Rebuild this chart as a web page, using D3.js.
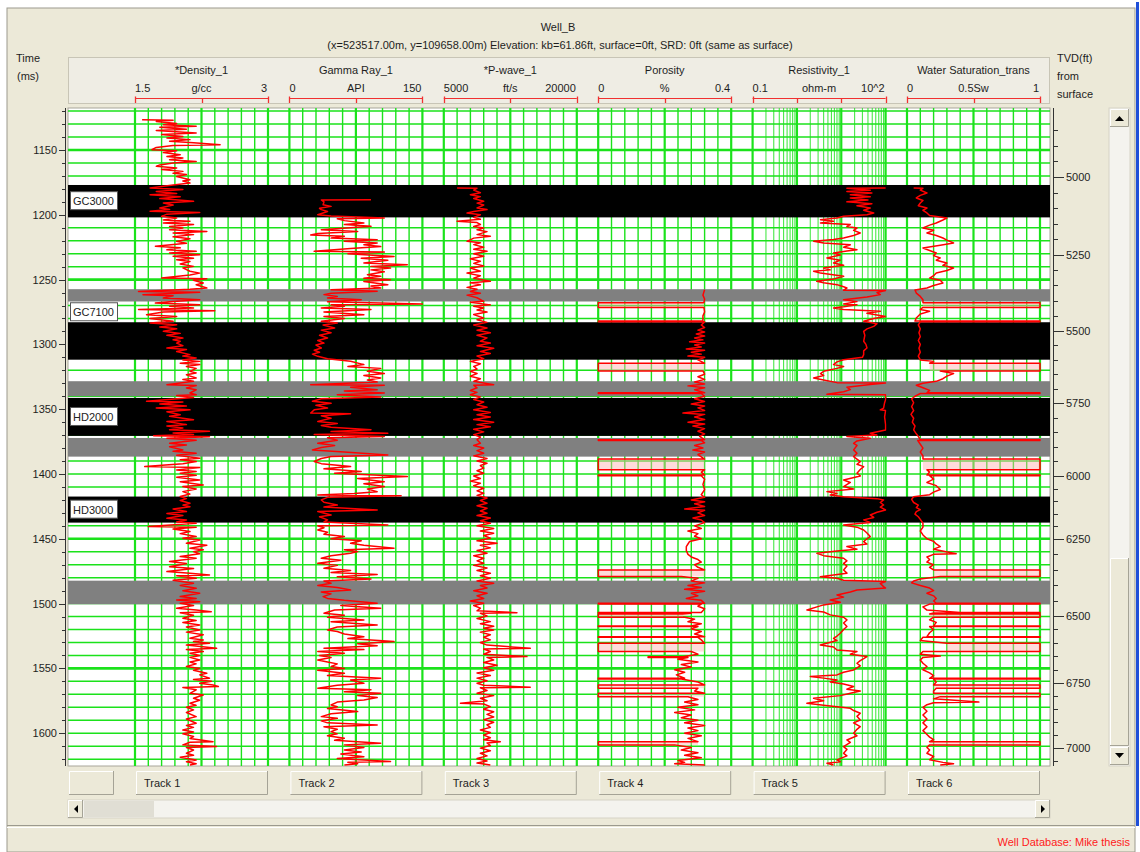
<!DOCTYPE html>
<html><head><meta charset="utf-8">
<script src="https://cdn.jsdelivr.net/npm/d3@7"></script>
<style>
html,body{margin:0;padding:0;background:#fff;}
svg{display:block;font-family:"Liberation Sans",Arial,sans-serif;}
</style></head><body>
<svg id="c" width="1140" height="852"></svg>
<script>
// ---------------- DATA ----------------
const titleLine1 = "Well_B";
const titleLine2 = "(x=523517.00m, y=109658.00m) Elevation: kb=61.86ft, surface=0ft, SRD: 0ft (same as surface)";
const trackNames = ["*Density_1","Gamma Ray_1","*P-wave_1","Porosity","Resistivity_1","Water Saturation_trans"];
const trackUnits = ["g/cc","API","ft/s","%","ohm-m","0.5Sw"];
const trackMinLabels = ["1.5","0","5000","0","0.1","0"];
const trackMaxLabels = ["3","150","20000","0.4","10^2","1"];
const trackDomains = [[1.5,3],[0,150],[5000,20000],[0,0.4],[0.1,100],[0,1]];
const trackButtons = ["Track 1","Track 2","Track 3","Track 4","Track 5","Track 6"];
const timeTicks = [1150,1200,1250,1300,1350,1400,1450,1500,1550,1600];
const tvdTicks = [5000,5250,5500,5750,6000,6250,6500,6750,7000];
const tvdTimes = [1170.8,1231,1289.6,1345.2,1401.5,1450.1,1509.5,1561.2,1611.4];
const bandLabels = ["GC3000","","GC7100","","HD2000","","HD3000",""];
const bandTop  = [1177,1257.4,1282.9,1328.4,1341.3,1372.2,1417.4,1482.3];
const bandBase = [1202,1266.9,1311.8,1340,1370.6,1386.6,1437.5,1500.5];
const bandLabelTime = [1189.5,null,1275.2,null,1356,null,1427.5,null];
const statusText = "Well Database: Mike thesis";

const density = [[1126.6,1.58],[1127,1.93],[1128,1.74],[1129.5,1.97],[1130.5,1.82],[1131.7,2.19],[1132.5,1.78],[1134,2.08],[1135,1.74],[1136.9,2.19],[1138,1.80],[1139.5,2.04],[1140.7,1.86],[1142,2.12],[1143.3,1.89],[1144.5,2.16],[1145.9,2.46],[1146.5,1.93],[1148,1.74],[1149.8,1.69],[1150.5,1.97],[1152,1.82],[1153.6,2.01],[1155,1.86],[1156.2,2.04],[1157.5,1.89],[1158.8,2.19],[1160,1.93],[1161.5,1.78],[1162.6,1.74],[1163.9,1.97],[1165,1.80],[1166.5,2.04],[1168,1.93],[1169,2.08],[1170.5,1.97],[1172.9,2.12],[1174,2.04],[1175.5,2.12],[1177,1.93],[1179.3,1.67],[1180.5,2.04],[1182,1.74],[1183.5,1.97],[1184.5,1.67],[1186,2.01],[1187.5,1.78],[1189.6,2.16],[1190.9,1.82],[1192.5,1.93],[1194.8,1.78],[1196,1.89],[1197.3,1.67],[1198.3,2.23],[1199.5,1.86],[1201.2,1.80],[1202.5,1.97],[1204,1.82],[1205,2.12],[1206.3,1.82],[1207.5,2.16],[1209,1.89],[1210.2,2.04],[1211.5,1.89],[1212.8,2.31],[1214,1.93],[1215.3,2.16],[1217,1.93],[1218.5,2.12],[1220.5,1.97],[1222,2.08],[1224.3,1.73],[1225.5,2.01],[1227,1.86],[1228.2,2.19],[1229.5,1.89],[1230.8,2.23],[1232,1.93],[1233.5,2.16],[1234.6,1.97],[1236,2.12],[1238,2.01],[1239.8,2.16],[1241,2.04],[1243.6,2.12],[1245,2.23],[1246.5,2.12],[1248.8,1.80],[1249.3,2.31],[1250.5,2.16],[1252.6,2.27],[1254,2.19],[1256.5,2.31],[1257.5,2.12],[1259.1,1.54],[1259.8,2.23],[1261.6,1.59],[1262.5,1.93],[1264.2,1.82],[1265.5,2.23],[1267,1.89],[1268.1,1.73],[1269.4,2.23],[1270.5,1.89],[1271.9,2.16],[1273,1.54],[1274,2.40],[1275,1.82],[1277.1,1.63],[1278.5,1.97],[1280,1.67],[1282.2,1.93],[1283.5,1.67],[1284.8,1.97],[1286.5,1.78],[1288,1.97],[1289.9,1.82],[1291.5,2.01],[1293,1.86],[1295.1,2.04],[1296.5,1.93],[1297.6,2.01],[1299,1.97],[1301,2.04],[1302.8,1.86],[1304,2.08],[1305.5,1.97],[1307.9,2.12],[1309,2.04],[1310.5,2.19],[1312,2.04],[1313.1,2.23],[1314.5,2.01],[1315.6,2.23],[1317,2.08],[1318.5,2.19],[1320.8,2.12],[1322,2.19],[1323.5,2.08],[1325.9,2.19],[1327,2.04],[1328.5,2.16],[1331.1,1.86],[1331.8,2.19],[1333.6,2.08],[1335,2.19],[1337.5,2.12],[1338.8,2.19],[1339.5,1.97],[1341,2.16],[1343.9,1.63],[1344.5,2.04],[1346,1.78],[1347.5,2.08],[1349.1,1.74],[1350.5,2.12],[1352,1.86],[1354.2,2.01],[1355.5,1.89],[1357,2.04],[1358.1,2.16],[1359.5,1.86],[1361.9,2.08],[1363,1.86],[1364.5,2.04],[1365.8,1.89],[1367,2.34],[1368.4,1.93],[1369.5,2.16],[1370.5,1.71],[1371.3,2.34],[1372.4,1.86],[1374,2.19],[1376.3,1.89],[1377.6,2.08],[1379,1.89],[1381.4,2.04],[1382.5,1.93],[1384,2.19],[1385.5,1.97],[1387.9,2.23],[1389,2.01],[1390.4,2.19],[1392,2.04],[1394.3,1.61],[1395,2.23],[1396.9,1.97],[1398,2.19],[1399.4,2.01],[1401,2.19],[1402.5,1.97],[1404.6,2.23],[1406,2.01],[1408.4,2.27],[1409.7,2.04],[1411.5,2.19],[1413.6,2.04],[1415.5,2.12],[1417.4,2.01],[1419,2.08],[1420.5,2.01],[1422.6,2.12],[1424,2.04],[1425.2,2.12],[1427,1.93],[1429,2.08],[1430.5,1.86],[1432,2.04],[1434.2,1.86],[1435.5,2.08],[1437,1.97],[1438,2.19],[1440.6,1.65],[1441,2.19],[1442.5,1.93],[1444.4,2.12],[1446,2.01],[1448.3,2.19],[1449.5,2.04],[1451,2.23],[1453.4,2.08],[1455,2.31],[1457.3,2.12],[1458.5,2.27],[1459.9,2.16],[1461.5,2.23],[1463.7,2.01],[1465,2.19],[1467.6,1.89],[1469,2.08],[1471.5,1.89],[1473,2.16],[1475.3,1.86],[1476.5,2.12],[1477.9,2.34],[1478.5,1.97],[1480.5,2.19],[1482,1.93],[1484.3,2.16],[1486,2.01],[1488.2,2.19],[1490,2.04],[1492,2.23],[1494.6,2.01],[1496,2.19],[1497.2,1.97],[1498.5,2.23],[1499.7,2.01],[1501.5,2.16],[1503.6,1.97],[1505,2.19],[1506.2,2.36],[1507,2.01],[1509,2.16],[1511.3,2.04],[1513,2.19],[1514.5,2.04],[1516.5,2.23],[1518,2.08],[1520.3,2.23],[1522,2.08],[1524,2.27],[1526.8,2.12],[1528,2.27],[1529.3,2.16],[1530.5,2.34],[1532,2.08],[1534.5,2.42],[1535.5,2.08],[1537,2.27],[1538.3,2.12],[1540,2.23],[1541.5,2.12],[1543.5,2.23],[1545,2.12],[1546.5,2.19],[1548.6,2.08],[1550,2.23],[1551.5,2.16],[1553.8,2.31],[1555,2.23],[1557.6,2.34],[1558.5,2.16],[1560,2.36],[1561.5,2.23],[1562.8,2.38],[1564,2.44],[1564.8,2.04],[1566.5,2.19],[1569.2,2.12],[1570.5,2.27],[1573,2.16],[1574.5,2.23],[1576.9,2.12],[1578.5,2.19],[1580,2.08],[1582,2.16],[1584,2.08],[1587.2,2.19],[1589,2.08],[1592.3,2.19],[1594,2.08],[1595.5,2.16],[1597.5,2.04],[1599,2.16],[1600.5,2.04],[1602.6,2.16],[1604,2.12],[1606.5,2.38],[1607,2.12],[1609,2.04],[1610.3,2.42],[1611,2.08],[1613,2.16],[1615.5,2.08],[1617,2.16],[1618.5,2.01],[1620.6,2.19],[1622,2.08],[1623.5,2.19],[1624.5,2.12]];

const gammaRay = [[1188.3,92],[1188.5,36],[1190,39],[1192.2,38],[1193.5,47],[1195,34],[1196,36],[1197.5,43],[1199.9,32],[1201,47],[1202.5,107],[1203,54],[1204.5,62],[1206.3,84],[1207.5,62],[1208.9,92],[1210,69],[1211.5,36],[1212.8,77],[1214.5,32],[1215.5,24],[1216.6,62],[1218,47],[1219.2,99],[1220.5,62],[1221.8,99],[1223.1,84],[1224.5,103],[1226,69],[1228.2,28],[1228.8,107],[1230,66],[1232.1,118],[1233.5,81],[1235,111],[1237.2,84],[1238.5,133],[1239.8,92],[1241.1,114],[1242.5,92],[1244,107],[1246.2,88],[1247.5,103],[1249,84],[1250.1,114],[1251.5,84],[1253.9,111],[1255,92],[1256.5,103],[1257.8,47],[1259,99],[1260.5,47],[1261.6,39],[1263,54],[1264.2,43],[1265.5,81],[1267,43],[1268.8,150],[1269.4,47],[1270.5,62],[1271.9,36],[1273,92],[1275,39],[1277.1,84],[1278.5,39],[1280,62],[1282.2,36],[1283.5,54],[1285,38],[1287.4,51],[1289,36],[1291,47],[1293,34],[1295.1,43],[1297,32],[1299,39],[1300.5,30],[1302.8,36],[1304.5,28],[1306,34],[1307.5,26],[1309.2,32],[1311,43],[1313,69],[1315.6,84],[1317,66],[1318.5,103],[1320.8,88],[1322.5,107],[1324,84],[1325.9,103],[1327.5,88],[1329,99],[1331.1,24],[1331.5,107],[1333,69],[1334.9,99],[1336,62],[1337.5,107],[1338.8,54],[1340.5,103],[1342,36],[1343.9,26],[1345.5,47],[1347,30],[1349.1,43],[1350.5,28],[1352.9,24],[1353.5,69],[1355,36],[1357,47],[1359.4,32],[1361,54],[1362.5,36],[1364,47],[1365.8,92],[1367.3,47],[1368.5,111],[1369.6,28],[1371.1,107],[1372,43],[1374,54],[1376.3,32],[1378,51],[1379.5,36],[1381.4,26],[1383,62],[1385.3,111],[1386.5,47],[1388,36],[1390.4,28],[1392,36],[1394.3,69],[1396,39],[1398.1,81],[1399.5,51],[1402,133],[1403.5,77],[1405.9,107],[1407.5,84],[1409.7,107],[1411.5,88],[1413.6,99],[1415,73],[1416.2,32],[1416.8,126],[1418,43],[1420,36],[1421.8,39],[1423.9,54],[1425.5,39],[1427.7,99],[1429,32],[1431.6,47],[1433,34],[1435.4,43],[1437,39],[1439.3,111],[1440,32],[1441.5,39],[1443.2,32],[1445,43],[1446.5,39],[1448.3,62],[1450,47],[1451.5,81],[1453.4,69],[1455,84],[1457.3,118],[1458.5,62],[1459.9,77],[1461.2,69],[1463,47],[1465,36],[1466.5,58],[1468.9,32],[1470.5,54],[1472.7,39],[1474.5,69],[1476,47],[1477.5,99],[1479.2,54],[1481,92],[1482.5,39],[1484.3,47],[1486,32],[1487.5,54],[1489.5,69],[1491,36],[1492.5,47],[1494.6,38],[1496,43],[1497.5,62],[1499.7,99],[1501.5,58],[1503.6,103],[1505,51],[1507.5,39],[1509,62],[1510.5,43],[1512.6,84],[1514,47],[1516.5,99],[1518,54],[1520.3,43],[1521.5,54],[1523.5,62],[1525.5,84],[1527,66],[1529.3,118],[1531,77],[1532.5,99],[1534.5,39],[1535.5,84],[1537,32],[1538.3,62],[1540,34],[1541.5,47],[1543.5,32],[1545,43],[1546.5,54],[1548.6,47],[1550,62],[1551.5,32],[1553.8,62],[1555.5,43],[1557.6,103],[1559,69],[1561.5,84],[1563,54],[1565.3,32],[1566.5,92],[1568,62],[1569.2,103],[1571,77],[1572.5,99],[1574.3,84],[1576,54],[1578.2,47],[1579.5,54],[1581,43],[1583.3,77],[1585,47],[1587.2,36],[1588.5,54],[1590.5,36],[1592,43],[1593.6,99],[1595,39],[1597,54],[1598.8,47],[1600.5,54],[1602,43],[1603.9,62],[1605.5,51],[1607.8,103],[1609,62],[1611,84],[1612.9,62],[1614.5,81],[1616,58],[1618.1,84],[1619.5,54],[1621.9,114],[1622.5,66],[1623.5,77],[1624.5,62]];

const pWave = [[1179.3,6500],[1179.5,8750],[1181,8375],[1183,9125],[1184.5,8000],[1186,9125],[1187.5,8375],[1189.6,9500],[1191,8750],[1192.5,9500],[1194.8,8750],[1196,9875],[1197.5,8375],[1198.6,7625],[1200,9125],[1202,8375],[1203.5,9125],[1205,6500],[1206,8750],[1207.5,9125],[1209,8375],[1210.2,9500],[1211.5,8750],[1213,9875],[1215.3,8750],[1216.5,10250],[1218,8375],[1220.5,7625],[1221.5,9125],[1223,8375],[1225,9500],[1226.5,8375],[1228.2,9875],[1230,8375],[1232,9500],[1234,8000],[1235.9,9125],[1237.5,8375],[1239.5,9500],[1241,8000],[1243.6,9125],[1245,7625],[1247,9125],[1249,8375],[1251.3,10250],[1252.5,8000],[1254,9125],[1256,7625],[1257.5,8750],[1259.1,8000],[1260.5,9125],[1262,7625],[1264,8750],[1266.8,9500],[1267.5,8000],[1269.5,10250],[1270.5,8375],[1271.9,9500],[1273.5,8750],[1275,9875],[1277,8375],[1279.6,9500],[1281,8750],[1283,9875],[1285,8375],[1287.4,9875],[1289,8750],[1291,10250],[1293,8750],[1295,9875],[1297.6,9125],[1299,10250],[1301,8750],[1303,10625],[1305.4,9125],[1307,10250],[1309,8750],[1311,9500],[1313.1,8000],[1315,9125],[1317,8375],[1319,8750],[1320.8,8000],[1322.5,8750],[1324.5,8000],[1326.5,9125],[1328.5,8375],[1331.1,10625],[1331.5,8375],[1333.5,8750],[1335.5,8000],[1337,8750],[1338.8,8000],[1340.5,9125],[1342.5,8375],[1344.5,9500],[1346.5,8750],[1348.5,9875],[1350.5,8375],[1352.5,10250],[1354.2,8750],[1356,10250],[1358,8375],[1360,10625],[1361.9,8750],[1363.5,10250],[1365.5,8375],[1367.5,9500],[1369.6,8375],[1371.5,9125],[1373.5,8750],[1376.3,9125],[1378,8375],[1380,9500],[1382,8750],[1384,9500],[1386,8375],[1388,9875],[1390,8750],[1391.7,9875],[1393.5,9125],[1395.5,9500],[1397.5,8750],[1399.4,9500],[1401.5,8375],[1403.5,9125],[1405.5,8000],[1407.2,9125],[1409,8375],[1411,9500],[1413,8750],[1414.9,9500],[1416.5,8750],[1418.5,9875],[1420.5,9125],[1422.6,9875],[1424.5,8750],[1426.5,9875],[1428.5,9125],[1430.3,9875],[1432,8750],[1434,10250],[1436,9125],[1438,10250],[1440,8750],[1442,10625],[1444,9125],[1445.7,10625],[1447.5,9500],[1449.5,10250],[1451.5,8750],[1453.4,11000],[1455,9125],[1457,10250],[1459,8750],[1461.2,9875],[1463,8375],[1465,9500],[1467,8750],[1468.9,9500],[1470.5,8375],[1472.5,9875],[1474.5,8750],[1476.6,10250],[1478.5,9125],[1480.5,10250],[1482.5,8750],[1484.3,10625],[1486,9125],[1488,9875],[1490,8375],[1492,9875],[1494,8750],[1496,9500],[1498,8000],[1499.7,9500],[1501.5,8375],[1503.5,9125],[1505.5,8750],[1507,13250],[1507.5,9125],[1509.5,9875],[1511.5,8750],[1513.9,10250],[1515.5,9125],[1517.5,10625],[1519,9500],[1520.3,10625],[1522,9125],[1524,10250],[1526,9500],[1528,10250],[1530,9125],[1532,9875],[1534.5,14750],[1535,9500],[1537,10250],[1539,9500],[1540.9,14375],[1541.5,9875],[1543.5,10625],[1545.5,9500],[1547.5,11000],[1549.5,9500],[1551.5,10625],[1553.5,8750],[1555.5,10250],[1557.5,8750],[1559.5,9875],[1561.5,8750],[1563,9500],[1564.5,14750],[1565,9125],[1567,9875],[1569.2,8750],[1571,10625],[1573,9125],[1575,9875],[1576.9,6875],[1577.5,9500],[1579.5,10250],[1581.5,9500],[1583.5,10625],[1585.5,9875],[1587.5,10625],[1589.5,9500],[1591.5,10625],[1593.5,9875],[1595.5,10250],[1597.5,9125],[1599.5,10250],[1601.5,9500],[1603.5,10250],[1605,9500],[1606.5,11375],[1607.5,9875],[1609.5,10250],[1611.5,9125],[1613.5,10250],[1615.5,9125],[1617.5,9875],[1619.5,8750],[1621.5,9875],[1623,8750],[1624.5,10250]];

const porosity = [[1257.8,0.32],[1262,0.315],[1265,0.32],[1267.8,0.318],[1267.8,0],[1271.5,0],[1271.5,0.318],[1275,0.32],[1278,0.315],[1282,0.315],[1282,0],[1282.6,0],[1282.6,0.32],[1285,0.31],[1287,0.32],[1289,0.3],[1290.5,0.32],[1292,0.295],[1293.5,0.32],[1295,0.29],[1296.5,0.315],[1298,0.275],[1299,0.32],[1300.5,0.29],[1302,0.31],[1303.5,0.265],[1304.5,0.32],[1306,0.28],[1307.5,0.31],[1309,0.27],[1310,0.32],[1312,0.3],[1314.5,0.32],[1314.5,0],[1320.5,0],[1320.5,0.315],[1323,0.32],[1325,0.3],[1327,0.32],[1329,0.29],[1330.5,0.32],[1332,0.27],[1333.5,0.32],[1335,0.29],[1337.3,0.32],[1337.3,0],[1337.9,0],[1337.9,0.31],[1340,0.32],[1342,0.29],[1344,0.32],[1346,0.28],[1347.5,0.32],[1349,0.3],[1351,0.32],[1353,0.255],[1354,0.32],[1356,0.29],[1358,0.32],[1360,0.27],[1361.5,0.32],[1363,0.285],[1365,0.32],[1367,0.3],[1369,0.32],[1371,0.305],[1373.5,0.32],[1373.5,0],[1374.1,0],[1374.1,0.31],[1376,0.32],[1378,0.29],[1380,0.315],[1381.5,0.285],[1383,0.32],[1385,0.3],[1388.5,0.32],[1388.5,0],[1396.8,0],[1396.8,0.32],[1398.5,0.31],[1400.7,0.32],[1400.7,0],[1401.3,0],[1401.3,0.31],[1404,0.32],[1408,0.315],[1412,0.32],[1416,0.31],[1418,0.32],[1420,0.28],[1421.5,0.32],[1423,0.29],[1425,0.32],[1427,0.26],[1428,0.32],[1430,0.3],[1432,0.32],[1434,0.285],[1435.5,0.31],[1437.5,0.32],[1440,0.29],[1442,0.31],[1444,0.27],[1446,0.3],[1448,0.29],[1450,0.31],[1452,0.275],[1454,0.27],[1456,0.265],[1459,0.265],[1462,0.27],[1464,0.28],[1466,0.3],[1468,0.31],[1470,0.29],[1472,0.3],[1474,0.32],[1474,0],[1479,0],[1479,0.25],[1480.5,0.3],[1482.5,0.28],[1484,0.32],[1486,0.27],[1487.5,0.31],[1489,0.26],[1490.5,0.32],[1492,0.28],[1494,0.3],[1496,0.265],[1497.5,0.31],[1499.7,0.32],[1499.7,0],[1500.4,0],[1500.4,0.31],[1502,0.3],[1504,0.32],[1506.8,0.31],[1506.8,0],[1507.3,0],[1507.3,0.2],[1507.5,0.28],[1508,0.255],[1508,0],[1510.5,0],[1510.5,0.26],[1512,0.29],[1514,0.27],[1515.5,0.31],[1517.2,0.28],[1517.2,0],[1517.7,0],[1517.7,0.3],[1519.5,0.28],[1521.5,0.31],[1523.5,0.29],[1525.5,0.32],[1525.5,0],[1526,0],[1526,0.3],[1528,0.31],[1530.6,0.32],[1530.6,0],[1537,0],[1537,0.28],[1539,0.3],[1541,0.255],[1541,0.15],[1541.5,0.15],[1541.5,0.27],[1543,0.24],[1545,0.3],[1547,0.25],[1549,0.28],[1551,0.23],[1553,0.26],[1555,0.235],[1557.6,0.26],[1557.6,0],[1558.2,0],[1558.2,0.25],[1560.5,0.3],[1562.8,0.32],[1562.8,0],[1565.3,0],[1565.3,0.3],[1567.5,0.29],[1569.2,0.32],[1569.2,0],[1571.8,0],[1571.8,0.27],[1574,0.3],[1576,0.26],[1578,0.3],[1580,0.24],[1582,0.29],[1584,0.23],[1586,0.28],[1588,0.25],[1590,0.3],[1592,0.26],[1594,0.32],[1596,0.27],[1598,0.3],[1600,0.26],[1602,0.31],[1604,0.27],[1606.5,0.3],[1606.5,0],[1609,0],[1609,0.23],[1611,0.28],[1613,0.25],[1615,0.3],[1617,0.26],[1619,0.31],[1621,0.24],[1622.5,0.26],[1623.5,0.23],[1624.5,0.32]];

const resistivity = [[1179.3,100],[1179.5,13.4],[1181,45],[1182,13.4],[1183.2,49],[1184.5,16],[1186,45],[1187,16],[1188.5,40],[1190,13.4],[1191.5,49],[1193,22.6],[1194.8,45],[1196.5,32],[1198.6,54],[1200,38],[1201.2,11.3],[1202.5,8],[1203.8,3.4],[1205,6.7],[1206.3,3.4],[1207.5,16],[1209,13.4],[1210.2,22.6],[1212,19],[1214.1,26.8],[1216,19],[1217.9,11.3],[1219,6.7],[1220.5,2.4],[1221.8,4],[1223.1,16],[1225,11.3],[1226.9,22.6],[1228,13.4],[1229.5,6.7],[1231,9.5],[1233.3,4.75],[1235,9.5],[1237.2,6.7],[1239,11.3],[1241.1,4],[1242.5,5.65],[1243.6,2.38],[1245,3.4],[1247.5,11.3],[1249.5,6.7],[1251.3,2.8],[1252.5,4],[1253.9,8],[1255.5,11.3],[1256.5,13.4],[1258.2,11.3],[1258.5,100],[1260,64],[1261.6,76],[1263.5,38],[1265.5,11.3],[1267,22.6],[1268.8,11.3],[1269.4,22.6],[1271,11.3],[1271.9,6.7],[1273,11.3],[1274.5,76],[1276,38],[1278.4,100],[1280,54],[1282.2,32],[1284,64],[1286.1,54],[1288,38],[1290,32],[1293,34],[1297.6,32],[1300,36],[1302.8,38],[1305,32],[1307.9,32],[1310,30],[1311.8,11.3],[1313.5,8],[1315.6,6.7],[1317,11.3],[1318.5,8],[1320.8,4],[1322.5,3.4],[1324,4],[1326,2.38],[1327.5,4],[1329.5,8],[1329.8,100],[1331,45],[1333,13.4],[1334.9,16],[1336.5,11.3],[1338.5,4.75],[1338.8,100],[1342.6,100],[1345,95],[1349.1,90],[1350.5,76],[1351,100],[1356,95],[1362,100],[1366,100],[1368.6,45],[1370,64],[1371.1,13.4],[1372.5,45],[1374.5,22.6],[1376.3,19],[1378,22.6],[1381.4,19],[1384,22.6],[1386.6,19],[1388.5,22.6],[1390.4,26.8],[1392.5,22.6],[1394.3,32],[1396.5,26.8],[1399.4,22.6],[1401.5,26.8],[1404.6,11.3],[1406.5,16],[1409.7,11.3],[1411.5,19],[1413.6,4.75],[1415,8],[1416.2,5.65],[1417.5,11.3],[1419,64],[1420,90],[1422,76],[1423.9,90],[1425.5,76],[1427.7,100],[1429.5,64],[1431.6,45],[1433.5,54],[1435.4,32],[1437.5,45],[1439.3,11.3],[1441,22.6],[1443.2,32],[1445.5,38],[1448.3,45],[1450,38],[1452.2,32],[1454,38],[1456,13.4],[1458,22.6],[1459.5,8],[1461.2,2.83],[1463,4],[1465,11.3],[1467,13.4],[1468.9,11.3],[1471,13.4],[1474,11.3],[1476.5,13.4],[1479.2,3.36],[1480.5,8],[1482,11.3],[1483,100],[1484.5,76],[1486.9,90],[1488,100],[1489.5,22.6],[1491,16],[1493.3,8],[1495,11.3],[1497.2,5.65],[1499,9.5],[1501,4],[1502.5,2.83],[1504.9,1.68],[1506.5,4],[1508.7,5.65],[1510.5,11.3],[1512.6,13.4],[1515,11.3],[1517.7,13.4],[1520,11.3],[1522.9,9.5],[1525,8],[1526.8,6.7],[1528.5,8],[1531.9,3.36],[1533.5,6.7],[1535.8,8],[1537,22.6],[1539,16],[1540.9,38],[1542.5,32],[1544,26.8],[1546,22.6],[1548,26.8],[1551.2,19],[1553,11.3],[1555,8],[1556.3,2.0],[1557.5,4],[1558.9,8],[1560.5,5.65],[1562,11.3],[1564,19],[1566,13.4],[1567.5,26.8],[1569.2,16],[1571,9.5],[1573.1,2.38],[1575,4],[1576.9,1.68],[1578.5,4],[1580.8,16],[1582.5,19],[1584.6,26.8],[1587,22.6],[1589.8,26.8],[1592,19],[1594.9,26.8],[1597,22.6],[1600,19],[1602,22.6],[1605.2,13.4],[1607,16],[1610.3,11.3],[1612.5,13.4],[1615.5,11.3],[1617.5,13.4],[1620.6,8],[1622,9.5],[1623.2,4.75],[1624.5,6.7]];

const waterSat = [[1179.3,0.05],[1179.5,0.12],[1181,0.1],[1183.2,0.15],[1185,0.1],[1187,0.07],[1189,0.12],[1190.9,0.1],[1193,0.085],[1194.8,0.15],[1196.5,0.12],[1198.6,0.15],[1200.5,0.17],[1202.5,0.3],[1204,0.27],[1206.3,0.22],[1208,0.17],[1210.2,0.12],[1212,0.2],[1214.1,0.15],[1216,0.22],[1217.9,0.27],[1219.5,0.3],[1221.8,0.35],[1223.5,0.25],[1225.6,0.12],[1227.5,0.17],[1229.5,0.22],[1231.5,0.2],[1233.3,0.25],[1235,0.22],[1237.2,0.3],[1239,0.27],[1241.1,0.35],[1243,0.3],[1244.9,0.22],[1247,0.2],[1248.8,0.17],[1250.5,0.25],[1252.6,0.27],[1254.5,0.2],[1256.5,0.15],[1258,0.06],[1260.4,0.07],[1263,0.1],[1265.5,0.12],[1267.8,0.12],[1267.8,1],[1271.5,1],[1271.5,0.12],[1273,0.1],[1274.5,0.17],[1276.5,0.1],[1279.6,0.07],[1282,0.06],[1282,1],[1282.6,1],[1282.6,0.1],[1285,0.085],[1288,0.1],[1291,0.09],[1294,0.1],[1297,0.085],[1300,0.1],[1303,0.09],[1306,0.1],[1309,0.085],[1312,0.1],[1313.1,0.2],[1314.5,0.17],[1314.5,1],[1320.5,1],[1320.5,0.25],[1322.5,0.35],[1324.5,0.3],[1326.5,0.27],[1328.5,0.22],[1330,0.12],[1331.5,0.07],[1333.5,0.12],[1335.5,0.17],[1337.3,0.15],[1337.3,1],[1337.9,1],[1337.9,0.1],[1340,0.06],[1342,0.035],[1345,0.05],[1348,0.035],[1351,0.05],[1354,0.03],[1357,0.05],[1360,0.04],[1363,0.06],[1366,0.05],[1369,0.07],[1371,0.085],[1373.5,0.1],[1373.5,1],[1374.1,1],[1374.1,0.08],[1377,0.1],[1380,0.12],[1383,0.1],[1386,0.12],[1388.5,0.12],[1388.5,1],[1396.8,1],[1396.8,0.15],[1398.5,0.17],[1400.7,0.15],[1400.7,1],[1401.3,1],[1401.3,0.17],[1404,0.2],[1406.5,0.15],[1409,0.22],[1412,0.25],[1414,0.2],[1416,0.17],[1417.5,0.05],[1419.5,0.035],[1422,0.05],[1424,0.085],[1426,0.07],[1427.5,0.1],[1429,0.07],[1431,0.06],[1433,0.085],[1435,0.1],[1438,0.12],[1441,0.12],[1444,0.1],[1447,0.12],[1450,0.15],[1452,0.2],[1454,0.22],[1456,0.25],[1458,0.2],[1461.5,0.37],[1462,0.2],[1464,0.15],[1466,0.17],[1468,0.15],[1470,0.2],[1472,0.17],[1474,0.2],[1474,1],[1479,1],[1479,0.25],[1481,0.1],[1482.5,0.05],[1484,0.035],[1486,0.1],[1488,0.17],[1490,0.2],[1492,0.15],[1494,0.2],[1496,0.22],[1498,0.2],[1499.7,0.22],[1499.7,1],[1500.4,1],[1500.4,0.17],[1502.5,0.12],[1505,0.15],[1506.8,0.4],[1506.8,1],[1507.3,1],[1507.3,0.2],[1508,0.17],[1508,1],[1510.5,1],[1510.5,0.2],[1512.5,0.17],[1514.5,0.22],[1517.2,0.2],[1517.2,1],[1517.7,1],[1517.7,0.17],[1520,0.2],[1522.5,0.17],[1525.5,0.15],[1525.5,1],[1526,1],[1526,0.12],[1528.5,0.1],[1530.6,0.3],[1530.6,1],[1537,1],[1537,0.12],[1539,0.1],[1540.5,0.25],[1541.5,0.12],[1543.5,0.1],[1546,0.12],[1548.5,0.15],[1551,0.12],[1553.5,0.17],[1555.5,0.2],[1557.6,0.17],[1557.6,1],[1558.2,1],[1558.2,0.2],[1560.5,0.22],[1562.8,0.2],[1562.8,1],[1565.3,1],[1565.3,0.22],[1567.5,0.2],[1569.2,0.2],[1569.2,1],[1571.8,1],[1571.8,0.25],[1573.5,0.2],[1576,0.54],[1576.5,0.2],[1578,0.15],[1580,0.12],[1583,0.15],[1586,0.12],[1589,0.15],[1592,0.12],[1595,0.15],[1598,0.12],[1601,0.15],[1603,0.17],[1605,0.2],[1606.5,0.17],[1606.5,1],[1609,1],[1609,0.17],[1611,0.15],[1613,0.17],[1615.5,0.15],[1618,0.2],[1620.5,0.17],[1622.5,0.27],[1623.5,0.35],[1624.5,0.25]];

const curves = [density, gammaRay, pWave, porosity, resistivity, waterSat];

// ---------------- LAYOUT ----------------
const svg = d3.select("#c");
const FONT = "11px";
const TXT = "#1e1e1e";
const BG = "#ece9d8";
const GREEN = "#1be21b";
const plotL = 68, plotR = 1050, plotT = 108, plotB = 766;
const trackX0 = 135, trackStep = 154.4, trackW = 133;

const y = d3.scaleLinear().domain([1117.6, 1625.3]).range([plotT, plotB]);
const xScales = trackDomains.map((d, i) => {
  const r = [trackX0 + i*trackStep, trackX0 + i*trackStep + trackW];
  return (i === 4 ? d3.scaleLog() : d3.scaleLinear()).domain(d).range(r);
});
const tvdY = d3.scaleLinear().domain(tvdTicks).range(tvdTimes.map(t => y(t)));

// window background
svg.append("rect").attr("width",1140).attr("height",852).attr("fill","#fff");
svg.append("rect").attr("x",7).attr("y",8).attr("width",1128).attr("height",844)
  .attr("fill",BG).attr("stroke","#9c9a8e").attr("stroke-width",1);
svg.append("line").attr("x1",1137.5).attr("x2",1137.5).attr("y1",2).attr("y2",826)
  .attr("stroke","#1f4fd8").attr("stroke-width",3);

// titles
svg.append("text").attr("x",558).attr("y",31).attr("text-anchor","middle")
  .style("font-size",FONT).attr("fill",TXT).text(titleLine1);
svg.append("text").attr("x",560).attr("y",49).attr("text-anchor","middle")
  .style("font-size",FONT).attr("fill",TXT).text(titleLine2);
svg.append("text").attr("x",16).attr("y",62).style("font-size",FONT).attr("fill",TXT).text("Time");
svg.append("text").attr("x",17).attr("y",80).style("font-size",FONT).attr("fill",TXT).text("(ms)");
["TVD(ft)","from","surface"].forEach((s,i)=>
  svg.append("text").attr("x",1057).attr("y",62+i*18).style("font-size",FONT).attr("fill",TXT).text(s));

// header panel
svg.append("rect").attr("x",68.5).attr("y",57.5).attr("width",981).attr("height",46)
  .attr("fill","#efede4").attr("stroke","#c8c5b6");

trackNames.forEach((nm, i) => {
  const xs = xScales[i];
  const [a, b] = xs.range();
  const g = svg.append("g");
  g.append("text").attr("x",(a+b)/2).attr("y",74).attr("text-anchor","middle")
    .style("font-size",FONT).attr("fill",TXT).text(nm);
  g.append("text").attr("x",a).attr("y",92).style("font-size",FONT).attr("fill",TXT).text(trackMinLabels[i]);
  g.append("text").attr("x",(a+b)/2).attr("y",92).attr("text-anchor","middle")
    .style("font-size",FONT).attr("fill",TXT).text(trackUnits[i]);
  g.append("text").attr("x",b-1).attr("y",92).attr("text-anchor","end")
    .style("font-size",FONT).attr("fill",TXT).text(trackMaxLabels[i]);
  g.append("line").attr("x1",a).attr("x2",b).attr("y1",98.5).attr("y2",98.5)
    .attr("stroke","#f03030").attr("stroke-width",1.2);
  const d = trackDomains[i];
  const bt = i === 4 ? [0.1,1,10,100] : [d[0], (d[0]+d[1])/2, d[1]];
  bt.forEach((v, k) => {
    const xx = Math.round(xs(v)) + 0.5;
    const end = (k === 0 || k === bt.length-1);
    g.append("line").attr("x1",xx).attr("x2",xx).attr("y1",end?96.5:98.5).attr("y2",103)
      .attr("stroke","#f03030").attr("stroke-width",1.3);
  });
});

// plot background
svg.append("rect").attr("x",plotL).attr("y",plotT).attr("width",plotR-plotL).attr("height",plotB-plotT)
  .attr("fill","#fff").attr("stroke","#a8a69a");

const defs = svg.append("defs");
defs.append("clipPath").attr("id","plotclip")
  .append("rect").attr("x",plotL).attr("y",plotT).attr("width",plotR-plotL).attr("height",plotB-plotT);
const plot = svg.append("g").attr("clip-path","url(#plotclip)");

// horizontal grid
const hTimes = d3.range(1120, 1630, 10);
plot.append("g").selectAll("line").data(hTimes).join("line")
  .attr("x1",plotL).attr("x2",plotR)
  .attr("y1",d=>y(d)).attr("y2",d=>y(d))
  .attr("stroke",GREEN)
  .attr("stroke-width",d=> (d-1150)%100===0 ? 2.6 : 1.5);

// vertical grids per track
xScales.forEach((xs, i) => {
  const g = plot.append("g");
  const d = trackDomains[i];
  let lines;
  if (i === 4) {
    lines = [];
    [0.1,1,10].forEach(dec => {
      lines.push({v:dec, major:true});
      for (let k=2;k<=9;k++) lines.push({v:dec*k, major:false});
    });
    lines.push({v:100, major:true});
  } else {
    lines = d3.range(11).map(k => ({v: d[0] + (d[1]-d[0])*k/10, major: k%5===0}));
  }
  g.selectAll("line").data(lines).join("line")
    .attr("x1",l=>xs(l.v)).attr("x2",l=>xs(l.v))
    .attr("y1",plotT).attr("y2",plotB)
    .attr("stroke",GREEN)
    .attr("stroke-opacity", l => (i===4 && !l.major) ? 0.8 : 1)
    .attr("stroke-width",l=> l.major ? 2.2 : (i===4 ? 1.1 : 1.4));
});

// formation bands
bandLabels.forEach((lab, i) => {
  plot.append("rect").attr("x",plotL).attr("width",plotR-plotL)
    .attr("y",y(bandTop[i])).attr("height",y(bandBase[i])-y(bandTop[i]))
    .attr("fill", lab ? "#000" : "#808080");
});

// light shading inside the cut-off spikes (porosity -> 0, Sw -> 1), derived from the curve points
[[3,0],[5,1]].forEach(([ti, ext]) => {
  const data = curves[ti], xs = xScales[ti];
  for (let k = 0; k + 3 < data.length; k++) {
    const a = data[k], b = data[k+1], c = data[k+2], e = data[k+3];
    if (a[0] === b[0] && b[1] === ext && c[1] === ext && c[0] === e[0] && c[0] - b[0] > 1) {
      const x1 = xs(ext), x2 = xs(a[1]);
      plot.append("rect").attr("x",Math.min(x1,x2)).attr("width",Math.abs(x2-x1))
        .attr("y",y(b[0])).attr("height",y(c[0])-y(b[0]))
        .attr("fill","#ffb0b0").attr("fill-opacity",0.45);
    }
  }
});

// curves
curves.forEach((data, i) => {
  const xs = xScales[i];
  const [a,b] = xs.range();
  const cid = "tclip"+i;
  defs.append("clipPath").attr("id",cid)
    .append("rect").attr("x",a-1).attr("y",plotT).attr("width",b-a+2).attr("height",plotB-plotT);
  const line = d3.line().x(d=>xs(d[1])).y(d=>y(d[0]));
  plot.append("path").attr("clip-path",`url(#${cid})`)
    .attr("d", line(data)).attr("fill","none")
    .attr("stroke","#ff0000").attr("stroke-width",1.5).attr("stroke-linejoin","round");
});

// band labels
bandLabels.forEach((lab, i) => {
  if (!lab) return;
  const cy = y(bandLabelTime[i]);
  plot.append("rect").attr("x",70.5).attr("y",cy-9.5).attr("width",47).attr("height",18)
    .attr("fill","#fff").attr("stroke","#555");
  plot.append("text").attr("x",73).attr("y",cy+4).style("font-size",FONT)
    .attr("fill","#222").text(lab);
});

// left time axis
const la = svg.append("g");
la.append("line").attr("x1",65.5).attr("x2",65.5).attr("y1",plotT).attr("y2",plotB).attr("stroke","#333");
la.selectAll("line.mt").data(hTimes.filter(t=>y(t)>=plotT && y(t)<=plotB)).join("line").attr("class","mt")
  .attr("x1",d=> timeTicks.includes(d) ? 59 : 62).attr("x2",65.5)
  .attr("y1",d=>Math.round(y(d))+0.5).attr("y2",d=>Math.round(y(d))+0.5).attr("stroke","#333");
la.selectAll("text").data(timeTicks).join("text")
  .attr("x",57).attr("y",d=>y(d)+4).attr("text-anchor","end")
  .style("font-size",FONT).attr("fill",TXT).text(d=>d);

// right TVD axis
const ra = svg.append("g");
ra.append("line").attr("x1",1053.5).attr("x2",1053.5).attr("y1",plotT).attr("y2",plotB).attr("stroke","#333");
const tvdMinor = d3.range(4850, 7101, 50).filter(v => tvdY(v) >= plotT && tvdY(v) <= plotB);
ra.selectAll("line.t").data(tvdMinor).join("line").attr("class","t")
  .attr("x1",1053.5).attr("x2",d=> tvdTicks.includes(d) ? 1064 : 1058)
  .attr("y1",d=>Math.round(tvdY(d))+0.5).attr("y2",d=>Math.round(tvdY(d))+0.5).attr("stroke","#333");
ra.selectAll("text").data(tvdTicks).join("text")
  .attr("x",1066).attr("y",d=>tvdY(d)+4)
  .style("font-size",FONT).attr("fill",TXT).text(d=>d);

// 3D button helper
function button(x, yy, w, h, label) {
  const g = svg.append("g");
  g.append("rect").attr("x",x).attr("y",yy).attr("width",w).attr("height",h).attr("fill",BG);
  g.append("path").attr("d",`M${x+0.5},${yy+h}V${yy+0.5}H${x+w}`).attr("stroke","#fff").attr("fill","none");
  g.append("path").attr("d",`M${x},${yy+h-0.5}H${x+w-0.5}V${yy}`).attr("stroke","#a5a396").attr("fill","none");
  if (label) g.append("text").attr("x",x+8).attr("y",yy+h/2+4).style("font-size",FONT).attr("fill",TXT).text(label);
  return g;
}

// track buttons
button(69, 771, 45, 24, "");
trackButtons.forEach((lab, i) => {
  const [a,b] = xScales[i].range();
  button(a+1, 771, b-a-1, 24, lab);
});

// horizontal scrollbar
svg.append("rect").attr("x",68).attr("y",800).attr("width",982).attr("height",18).attr("fill","#f4f3ee").attr("stroke","#d6d3c6");
svg.append("rect").attr("x",84).attr("y",801).attr("width",70).attr("height",16).attr("fill","#e0ded4");
button(68, 800, 15, 18, "");
svg.append("path").attr("d","M78,805L74,809L78,813Z").attr("fill","#000");
button(1035, 800, 15, 18, "");
svg.append("path").attr("d","M1041,805L1045,809L1041,813Z").attr("fill","#000");

// vertical scrollbar
svg.append("rect").attr("x",1109).attr("y",108).attr("width",21).attr("height",658).attr("fill","#f4f3ee").attr("stroke","#d6d3c6");
button(1110, 558, 19, 188, "");
button(1110, 109, 19, 18, "");
svg.append("path").attr("d","M1115,121L1119.5,116L1124,121Z").attr("fill","#000");
button(1110, 747, 19, 18, "");
svg.append("path").attr("d","M1115,753L1119.5,758L1124,753Z").attr("fill","#000");

// status bar
svg.append("line").attr("x1",7).attr("x2",1135).attr("y1",825.5).attr("y2",825.5).attr("stroke","#9c9a8e");
svg.append("line").attr("x1",7).attr("x2",1135).attr("y1",827.5).attr("y2",827.5).attr("stroke","#fff");
svg.append("text").attr("x",1130).attr("y",846).attr("text-anchor","end")
  .style("font-size",FONT).attr("fill","#ff2020").text(statusText);
</script></body></html>
